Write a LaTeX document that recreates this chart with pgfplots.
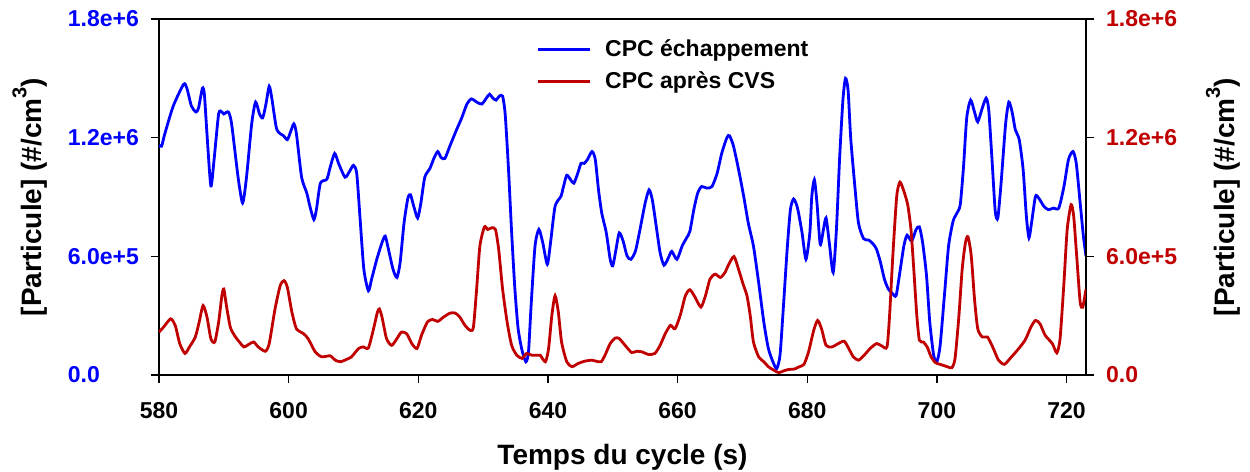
\documentclass[border=0pt]{standalone}
\usepackage{fontspec}
\setmainfont{Liberation Sans}
\usepackage{pgfplots}
\usepackage{pgfplotstable}
\pgfplotsset{compat=1.18}
\definecolor{cpcblue}{RGB}{0,0,255}
\definecolor{cpcred}{RGB}{192,0,0}

% values in units of 1e5 particles/cm3
\pgfplotstableread{
t v
580 11.62
580.4 11.57
580.9 12.2
582.2 13.6
583.8 14.7
584.3 14.5
585.0 13.6
585.7 13.3
586.1 13.5
586.7 14.5
587.0 14.2
587.4 12.2
588.0 9.56
588.5 10.9
589.2 13.2
589.7 13.3
590.0 13.2
590.7 13.3
591.2 12.7
592.2 10.0
592.9 8.7
593.5 10.0
594.3 12.7
594.9 13.8
595.5 13.2
596.0 13.0
596.5 13.7
597.0 14.6
597.4 14.0
598.1 12.5
598.7 12.2
599.2 12.1
599.8 11.9
600.3 12.3
600.8 12.7
601.2 12.2
602.0 10.0
602.8 9.2
603.3 8.5
603.9 7.86
604.3 8.4
604.9 9.7
605.9 9.9
606.4 10.5
607.1 11.2
607.7 10.7
608.7 10.0
609.4 10.3
610.0 10.6
610.5 10.2
611.0 8.0
611.6 5.35
612.3 4.26
612.8 4.85
613.6 5.85
614.4 6.69
614.9 7.02
615.4 6.35
616.1 5.35
616.7 4.93
617.2 5.69
617.8 7.69
618.4 8.95
618.8 9.11
619.3 8.53
619.9 7.94
620.4 8.70
621.0 10.0
621.8 10.45
622.4 10.95
623.0 11.3
623.5 11.0
624.1 10.95
624.9 11.6
625.9 12.4
626.7 13.0
627.5 13.7
628.2 13.96
629.0 13.8
629.8 13.7
630.5 14.0
631.0 14.2
631.5 14.0
632.0 13.9
632.5 14.1
633.0 14.1
633.4 13.2
633.9 10.5
634.4 7.2
634.9 4.35
635.4 2.34
636.0 1.25
636.6 0.67
637.0 1.17
637.4 3.5
638.0 6.5
638.6 7.36
639.2 6.69
639.9 5.60
640.4 6.69
641.1 8.53
642.0 9.03
642.4 9.53
642.9 10.1
643.5 9.87
644.0 9.70
644.6 10.2
645.1 10.7
645.6 10.7
646.1 10.9
646.8 11.3
647.3 10.9
647.8 9.36
648.3 8.19
649.0 7.19
649.6 5.85
650.0 5.52
650.5 6.35
651.0 7.19
651.6 6.77
652.2 6.02
652.8 5.85
653.5 6.27
654.2 7.36
655.0 8.70
655.6 9.36
656.1 8.86
656.7 7.53
657.3 6.19
657.9 5.55
658.6 5.94
659.1 6.25
659.9 5.85
660.7 6.52
661.4 6.94
661.9 7.27
662.5 8.36
663.1 9.20
663.7 9.53
664.5 9.45
665.3 9.53
666.1 10.2
666.8 11.2
667.6 12.0
668.0 12.1
668.6 11.6
669.4 10.4
670.2 9.03
670.9 7.69
671.7 6.52
672.5 4.68
673.3 2.68
674.0 1.34
674.8 0.59
675.3 0.33
675.8 1.00
676.3 3.34
676.9 6.35
677.4 8.36
677.9 8.90
678.5 8.44
679.2 7.19
679.8 5.85
680.4 7.19
680.7 9.03
681.1 9.87
681.5 8.70
682.0 6.61
682.5 7.36
682.9 7.94
683.4 6.69
684.0 5.18
684.5 7.36
685.0 11.0
685.5 13.9
685.9 15.0
686.3 14.4
686.7 12.0
687.3 9.70
687.9 7.69
688.7 6.89
689.5 6.82
690.2 6.61
690.7 6.35
691.3 5.69
691.9 4.85
692.5 4.35
693.2 4.10
693.7 4.01
694.2 5.0
694.9 6.52
695.4 7.07
696.1 6.77
696.8 7.36
697.3 7.49
697.8 6.69
698.4 5.02
698.9 2.68
699.5 1.00
700.0 0.67
700.5 1.50
701.2 4.18
701.8 6.52
702.5 7.78
703.1 8.19
703.6 8.61
704.1 10.5
704.6 13.0
705.2 13.9
705.8 13.3
706.3 12.8
707.0 13.5
707.6 14.0
708.0 13.4
708.5 10.9
709.0 8.28
709.4 7.94
709.9 9.70
710.6 12.7
711.1 13.8
711.6 13.3
712.1 12.4
712.7 11.9
713.3 10.4
713.8 8.03
714.2 6.94
714.6 7.69
715.2 9.03
715.7 8.95
716.5 8.53
717.2 8.36
718.0 8.44
718.8 8.44
719.6 9.53
720.3 10.9
721.0 11.3
721.5 10.7
722.1 8.70
722.6 7.02
723.0 6.02
}\bluedata

\pgfplotstableread{
t v
580 2.17
580.7 2.42
581.8 2.84
582.5 2.51
583.2 1.59
584.0 1.09
584.7 1.42
585.6 1.92
586.2 2.68
586.8 3.51
587.4 2.93
588.0 1.84
588.6 1.67
589.2 2.68
589.7 4.01
590.0 4.35
590.4 3.51
591.0 2.42
591.7 1.97
592.4 1.67
593.1 1.42
593.8 1.54
594.6 1.67
595.3 1.42
596.4 1.20
597.0 1.59
597.9 3.34
598.7 4.52
599.3 4.77
599.8 4.43
600.5 3.18
601.2 2.34
602.3 2.09
603.0 1.84
604.1 1.17
605.1 0.92
606.4 0.97
607.2 0.75
608.0 0.67
609.0 0.80
609.7 0.92
610.8 1.34
611.5 1.42
612.3 1.37
613.1 2.34
613.7 3.18
614.0 3.34
614.4 2.93
615.1 1.84
615.9 1.50
616.7 1.84
617.4 2.17
618.2 2.09
619.0 1.59
619.8 1.34
620.5 2.01
621.4 2.68
622.2 2.81
623.0 2.71
623.9 2.93
624.9 3.13
625.7 3.13
626.4 2.93
627.2 2.51
628.0 2.26
628.5 2.42
629.0 4.35
629.5 6.52
630.2 7.49
630.7 7.36
631.3 7.44
631.9 7.36
632.4 6.35
633.0 4.35
633.7 2.68
634.4 1.50
635.2 1.00
636.0 0.84
636.7 1.09
637.5 1.00
638.3 1.00
638.8 1.00
639.6 0.67
640.1 1.34
640.6 3.01
641.1 4.01
641.6 3.18
642.1 1.67
642.9 0.67
643.7 0.42
644.7 0.59
645.7 0.70
646.8 0.75
647.4 0.70
648.2 0.67
648.8 1.00
649.6 1.59
650.4 1.87
651.0 1.84
651.9 1.50
652.9 1.14
653.7 1.20
654.5 1.17
655.5 1.04
656.5 1.09
657.3 1.50
658.1 2.09
658.9 2.51
659.6 2.34
660.4 3.01
661.2 4.01
661.9 4.31
662.7 3.93
663.6 3.43
664.3 4.01
665.0 4.85
665.8 5.10
666.6 4.93
667.3 5.18
667.9 5.60
668.7 5.99
669.4 5.35
670.1 4.60
670.7 4.01
671.2 3.01
671.7 1.67
672.5 0.92
673.3 0.67
674.0 0.42
674.8 0.25
675.6 0.12
676.3 0.20
677.1 0.28
678.0 0.30
678.8 0.42
679.5 0.54
680.2 1.17
681.0 2.26
681.6 2.76
682.2 2.34
682.9 1.50
683.8 1.42
684.8 1.59
685.7 1.71
686.4 1.34
687.1 0.92
687.9 0.75
688.7 0.97
689.7 1.34
690.7 1.59
691.5 1.47
692.3 1.42
692.7 3.01
693.2 6.02
693.8 9.03
694.3 9.75
694.9 9.30
695.5 8.60
696.0 7.36
696.4 5.52
696.9 3.01
697.3 1.76
697.9 1.67
698.5 1.42
699.1 0.92
699.8 0.62
700.5 0.54
701.6 0.42
702.3 0.37
702.8 0.84
703.4 3.01
703.9 5.35
704.4 6.69
704.8 6.99
705.3 6.02
705.8 3.85
706.3 2.34
707.0 1.92
707.8 1.92
708.6 1.42
709.5 0.75
710.4 0.54
711.3 0.84
712.4 1.25
713.6 1.76
714.5 2.42
715.2 2.76
715.9 2.59
716.7 2.01
717.8 1.59
718.5 1.12
719.0 1.84
719.6 4.68
720.1 7.36
720.7 8.61
721.1 8.03
721.6 5.85
722.1 3.68
722.5 3.43
723.0 4.35
}\reddata

\newcommand\tickfont{\bfseries\fontsize{11.5}{13}\selectfont}
\newcommand\labfont{\bfseries\fontsize{14}{16}\selectfont}
\newcommand\cmcube{\#/cm\raisebox{1.0ex}{\fontsize{10}{10}\selectfont 3}}

\pgfplotsset{
  common/.style={
    scale only axis, width=463.5pt, height=178pt,
    xmin=580, xmax=723, ymin=0, ymax=18,
    axis line style={black, line width=0.6pt},
    tick style={black, line width=0.6pt},
    tick align=outside, major tick length=4pt,
    /pgf/number format/assume math mode=true,
    ytick={0,6,12,18},
    yticklabels={0.0,6.0e+5,1.2e+6,1.8e+6},
  },
}

\begin{document}
\begin{tikzpicture}
\begin{axis}[common,
  xtick={580,600,...,720},
  xtick pos=left, ytick pos=left,
  xticklabel style={font=\tickfont, yshift=-6pt},
  yticklabel style={font=\tickfont, text=cpcblue, text width=36pt, align=left, xshift=-2pt},
  xlabel={Temps du cycle (s)},
  ylabel={{[}Particule{]} (\cmcube)},
  every axis x label/.style={at={(axis description cs:0.5,0)}, yshift=-41pt, anchor=center, font=\labfont},
  every axis y label/.style={at={(axis description cs:-0.1395,0.5)}, rotate=90, anchor=center, font=\labfont},
]
\addplot[cpcblue, line width=1.4pt, smooth, tension=0.4] table[x=t, y=v] {\bluedata};
\end{axis}
\begin{axis}[common,
  axis x line=none, axis y line*=right,
  yticklabel style={font=\tickfont, text=cpcred, text width=36pt, align=left, xshift=2.5pt},
  ylabel={{[}Particule{]} (\cmcube)},
  every axis y label/.style={at={(axis description cs:1.148,0.5)}, rotate=90, anchor=center, font=\labfont},
  legend style={draw=none, fill=none, at={(rel axis cs:0,1)}, anchor=north west,
    xshift=188.5pt, yshift=-8pt, font=\tickfont, row sep=2pt, column sep=5pt, inner sep=0pt},
  legend cell align=left,
  legend image code/.code={\draw[#1] (0pt,0pt) -- (26pt,0pt);},
]
\addlegendimage{cpcblue, line width=1.4pt}
\addlegendentry{CPC échappement}
\addplot[cpcred, line width=1.4pt, smooth, tension=0.4] table[x=t, y=v] {\reddata};
\addlegendentry{CPC après CVS}
\end{axis}
\pgfresetboundingbox
\path[use as bounding box] (-79.5pt,-48.5pt) rectangle (545.5pt,187.5pt);
\end{tikzpicture}
\end{document}
